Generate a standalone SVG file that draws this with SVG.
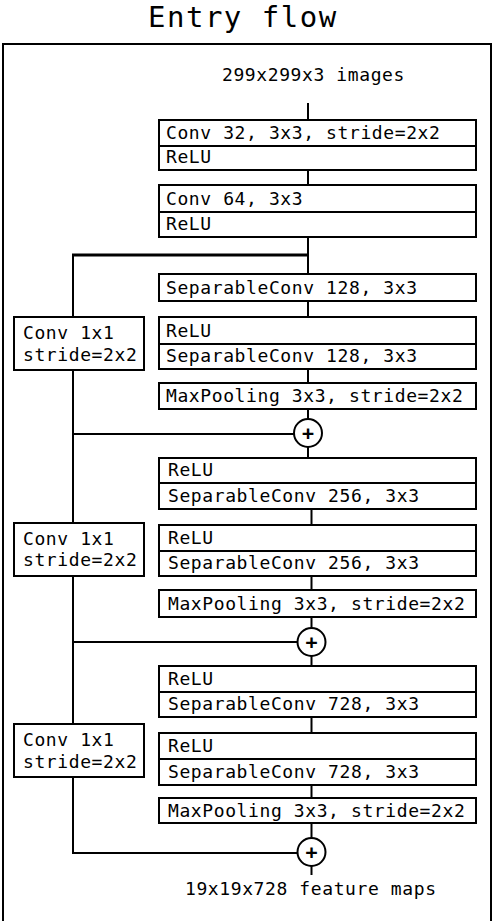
<svg xmlns="http://www.w3.org/2000/svg" width="497" height="921" viewBox="0 0 497 921">
<style>
  .t{font-family:"DejaVu Sans Mono","Liberation Mono",monospace;font-size:18px;letter-spacing:0.6px;fill:#000}
  .title{font-family:"DejaVu Sans Mono","Liberation Mono",monospace;font-size:29px;letter-spacing:1.5px;fill:#000}
  .box{fill:#fff;stroke:#000;stroke-width:2}
  .ln{stroke:#000;stroke-width:2;fill:none}
  .plus{font-family:"DejaVu Sans Mono","Liberation Mono",monospace;font-size:20px;font-weight:bold;fill:#000;text-anchor:middle}
</style>
<rect x="0" y="0" width="497" height="921" fill="#fff"/>
<text class="title" x="148" y="27">Entry flow</text>
<rect x="3" y="44" width="488" height="900" fill="none" stroke="#000" stroke-width="2"/>
<g id="connectors">
  <line class="ln" x1="308" y1="103" x2="308" y2="120"/>
  <line class="ln" x1="308" y1="170" x2="308" y2="185"/>
  <line class="ln" x1="308" y1="237" x2="308" y2="274"/>
  <line x1="72" y1="255" x2="308" y2="255" stroke="#000" stroke-width="3"/>
  <line class="ln" x1="308" y1="301" x2="308" y2="317"/>
  <line class="ln" x1="308" y1="369" x2="308" y2="383"/>
  <line class="ln" x1="308" y1="409" x2="308" y2="419"/>
  <line class="ln" x1="308" y1="447" x2="308" y2="458"/>
  <line class="ln" x1="73" y1="434" x2="294" y2="434"/>
  <line class="ln" x1="311.5" y1="509" x2="311.5" y2="525"/>
  <line class="ln" x1="311.5" y1="576" x2="311.5" y2="590"/>
  <line class="ln" x1="311.5" y1="617" x2="311.5" y2="628"/>
  <line class="ln" x1="311.5" y1="656" x2="311.5" y2="666"/>
  <line class="ln" x1="73" y1="642" x2="297.5" y2="642"/>
  <line class="ln" x1="311.5" y1="717" x2="311.5" y2="733"/>
  <line class="ln" x1="311.5" y1="785" x2="311.5" y2="798"/>
  <line class="ln" x1="311.5" y1="823" x2="311.5" y2="838"/>
  <line class="ln" x1="311.5" y1="866" x2="311.5" y2="875"/>
  <line class="ln" x1="73" y1="853" x2="297.5" y2="853"/>
  <line class="ln" x1="73" y1="254" x2="73" y2="317"/>
  <line class="ln" x1="73" y1="370" x2="73" y2="523"/>
  <line class="ln" x1="73" y1="576" x2="73" y2="724"/>
  <line class="ln" x1="73" y1="777" x2="73" y2="854"/>
</g>
<g id="input"><text class="t" x="222" y="81">299x299x3 images</text></g>
<g id="conv32">
  <rect class="box" x="159" y="120" width="317" height="50"/>
  <line class="ln" x1="159" y1="146" x2="476" y2="146"/>
  <text class="t" x="166" y="139">Conv 32, 3x3, stride=2x2</text>
  <text class="t" x="166" y="163">ReLU</text>
</g>
<g id="conv64">
  <rect class="box" x="159" y="185" width="317" height="52"/>
  <line class="ln" x1="159" y1="212" x2="476" y2="212"/>
  <text class="t" x="166" y="205">Conv 64, 3x3</text>
  <text class="t" x="166" y="230">ReLU</text>
</g>
<g id="sep128a">
  <rect class="box" x="159" y="274" width="317" height="27"/>
  <text class="t" x="166" y="294">SeparableConv 128, 3x3</text>
</g>
<g id="sep128b">
  <rect class="box" x="159" y="317" width="317" height="52"/>
  <line class="ln" x1="159" y1="344" x2="476" y2="344"/>
  <text class="t" x="166" y="337">ReLU</text>
  <text class="t" x="166" y="362">SeparableConv 128, 3x3</text>
</g>
<g id="pool1">
  <rect class="box" x="159" y="383" width="317" height="26"/>
  <text class="t" x="166" y="402">MaxPooling 3x3, stride=2x2</text>
</g>
<g id="add1">
  <circle class="box" cx="308" cy="433" r="14"/>
  <text class="plus" x="308" y="440">+</text>
</g>
<g id="skip1">
  <rect class="box" x="14" y="317" width="130" height="53"/>
  <text class="t" x="23" y="339">Conv 1x1</text>
  <text class="t" x="23" y="361">stride=2x2</text>
</g>
<g id="sep256a">
  <rect class="box" x="159" y="458" width="317" height="51"/>
  <line class="ln" x1="159" y1="483" x2="476" y2="483"/>
  <text class="t" x="168" y="476">ReLU</text>
  <text class="t" x="168" y="502">SeparableConv 256, 3x3</text>
</g>
<g id="sep256b">
  <rect class="box" x="159" y="525" width="317" height="51"/>
  <line class="ln" x1="159" y1="551" x2="476" y2="551"/>
  <text class="t" x="168" y="544">ReLU</text>
  <text class="t" x="168" y="569">SeparableConv 256, 3x3</text>
</g>
<g id="pool2">
  <rect class="box" x="159" y="590" width="317" height="27"/>
  <text class="t" x="168" y="610">MaxPooling 3x3, stride=2x2</text>
</g>
<g id="add2">
  <circle class="box" cx="311.5" cy="642" r="14"/>
  <text class="plus" x="311.5" y="649">+</text>
</g>
<g id="skip2">
  <rect class="box" x="14" y="523" width="130" height="53"/>
  <text class="t" x="23" y="545">Conv 1x1</text>
  <text class="t" x="23" y="566">stride=2x2</text>
</g>
<g id="sep728a">
  <rect class="box" x="159" y="666" width="317" height="51"/>
  <line class="ln" x1="159" y1="692" x2="476" y2="692"/>
  <text class="t" x="168" y="685">ReLU</text>
  <text class="t" x="168" y="710">SeparableConv 728, 3x3</text>
</g>
<g id="sep728b">
  <rect class="box" x="159" y="733" width="317" height="52"/>
  <line class="ln" x1="159" y1="759" x2="476" y2="759"/>
  <text class="t" x="168" y="752">ReLU</text>
  <text class="t" x="168" y="778">SeparableConv 728, 3x3</text>
</g>
<g id="pool3">
  <rect class="box" x="159" y="798" width="317" height="25"/>
  <text class="t" x="168" y="817">MaxPooling 3x3, stride=2x2</text>
</g>
<g id="add3">
  <circle class="box" cx="311.5" cy="852" r="14"/>
  <text class="plus" x="311.5" y="859">+</text>
</g>
<g id="skip3">
  <rect class="box" x="14" y="724" width="130" height="53"/>
  <text class="t" x="23" y="746">Conv 1x1</text>
  <text class="t" x="23" y="768">stride=2x2</text>
</g>
<g id="output"><text class="t" x="185" y="895">19x19x728 feature maps</text></g>
</svg>
